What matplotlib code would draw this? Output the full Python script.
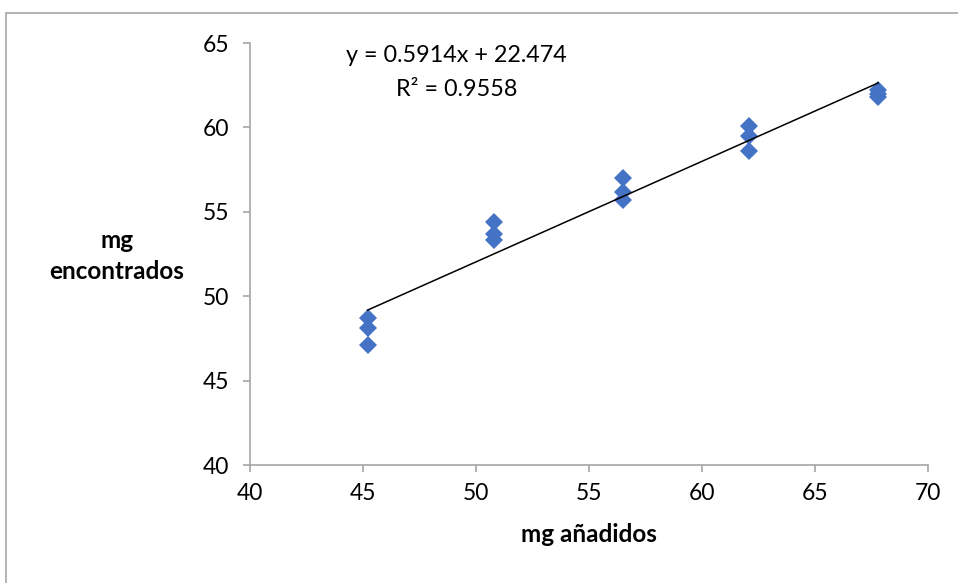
import matplotlib
matplotlib.use("Agg")
import matplotlib.pyplot as plt
import numpy as np
from matplotlib.patches import Rectangle

# mg added (x) vs mg found (y), three replicates per level
mg_added = [45.2, 45.2, 45.2, 50.8, 50.8, 50.8, 56.5, 56.5, 56.5,
            62.1, 62.1, 62.1, 67.8, 67.8, 67.8]
mg_found = [48.7, 48.1, 47.1, 54.4, 53.7, 53.3, 57.0, 56.2, 55.7,
            60.1, 59.5, 58.6, 62.2, 62.0, 61.8]
x_ticks = [40, 45, 50, 55, 60, 65, 70]
y_ticks = [40, 45, 50, 55, 60, 65]
eq_text = "y = 0.5914x + 22.474"
r2_text = "R² = 0.9558"

plt.rcParams["font.family"] = ["Lato", "DejaVu Sans"]

fig = plt.figure(figsize=(9.58, 5.83), dpi=100)
fig.patches.append(Rectangle((6 / 958, -0.05), 1.1, 1 - 13 / 583 + 0.05,
                             transform=fig.transFigure, fill=False,
                             edgecolor="#a6a6a6", lw=1.2))
ax = fig.add_axes([250 / 958, 1 - 465 / 583, 678 / 958, 422 / 583])

x = np.array(mg_added)
y = np.array(mg_found)
slope, icpt = np.polyfit(x, y, 1)
xl = np.array([x.min(), x.max()])
ax.plot(xl, slope * xl + icpt, color="black", lw=1.1, zorder=3)
ax.plot(x, y, linestyle="none", marker="D", markersize=9.5,
        color="#4472C4", markeredgewidth=0, zorder=2)

ax.set_xlim(40, 70)
ax.set_ylim(40, 65)
ax.set_xticks(x_ticks)
ax.set_yticks(y_ticks)
for s in ("top", "right"):
    ax.spines[s].set_visible(False)
for s in ("left", "bottom"):
    ax.spines[s].set_color("#a6a6a6")
    ax.spines[s].set_linewidth(1.2)
ax.tick_params(direction="out", length=5, width=1.2, color="#a6a6a6",
               labelsize=16.5)
ax.tick_params(axis="y", pad=10)
ax.tick_params(axis="x", pad=8)

ax.set_xlabel("mg añadidos", fontsize=17.5, fontweight="bold", labelpad=14)
fig.text(117 / 958, 1 - 256 / 583, "mg\nencontrados", fontsize=17.5,
         fontweight="bold", ha="center", va="center", linespacing=1.45)

ax.text(0.305, 0.97, eq_text, transform=ax.transAxes, fontsize=16.8,
        ha="center", va="center")
ax.text(0.305, 0.89, r2_text, transform=ax.transAxes, fontsize=16.8,
        ha="center", va="center")

fig.savefig("out.png", dpi=100)
